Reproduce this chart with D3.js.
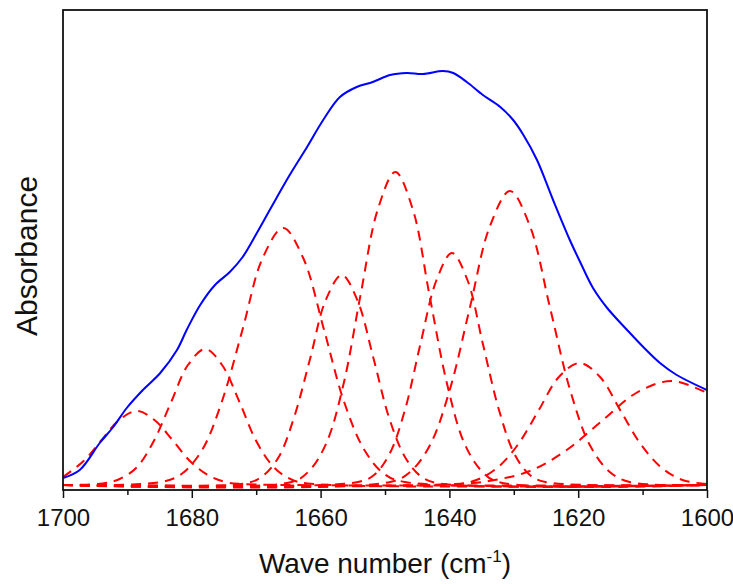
<!DOCTYPE html>
<html lang="en">
<head>
    <meta charset="UTF-8">
    <title>Absorbance</title>
    <script src="https://cdn.jsdelivr.net/npm/d3@7/dist/d3.min.js"></script>
    <style>
        body { margin: 0; background: #fff; }
        text { font-family: "Liberation Sans", Arial, sans-serif; }
    </style>
</head>
<body>
    <div class="chart"></div>
<script>
    // measured spectrum [wave number, absorbance]
    const spectrum = [
        [1700, 0.007], [1697.4, 0.015], [1694.3, 0.042], [1692.2, 0.058], [1690.1, 0.077],
        [1687.6, 0.095], [1684.9, 0.112], [1682.3, 0.135], [1680.8, 0.155], [1678.7, 0.180],
        [1676.4, 0.200], [1674.1, 0.213], [1672.1, 0.228], [1669.9, 0.252], [1667.9, 0.275],
        [1664.8, 0.310], [1662.1, 0.338], [1659.6, 0.365], [1657.0, 0.388], [1654.4, 0.398],
        [1651.9, 0.403], [1649.2, 0.410], [1646.6, 0.412], [1644.1, 0.411], [1641.0, 0.414],
        [1639.4, 0.412], [1637.3, 0.403], [1634.8, 0.390], [1632.1, 0.378], [1630.1, 0.365],
        [1628.6, 0.351], [1626.4, 0.325], [1623.9, 0.285], [1621.3, 0.245], [1619.7, 0.223],
        [1617.7, 0.197], [1615.5, 0.177], [1612.4, 0.155], [1609.9, 0.138], [1607.3, 0.122],
        [1604.7, 0.110], [1600, 0.095]
    ]

    // fitted component bands [wave number, absorbance]
    const band1 = [
        [1700, 0.008], [1696.8, 0.024], [1694.0, 0.045], [1691.3, 0.065], [1688.5, 0.074],
        [1685.8, 0.065], [1683.0, 0.045], [1680.3, 0.024], [1677.5, 0.010], [1674.8, 0.003],
        [1672.0, 0.001], [1600, 0]
    ]
    const band2 = [
        [1700, 0], [1693.8, 0.0015], [1691.2, 0.006], [1688.5, 0.018], [1685.9, 0.044],
        [1683.2, 0.083], [1680.6, 0.120], [1677.9, 0.136], [1675.3, 0.120], [1672.6, 0.083],
        [1670.0, 0.044], [1667.3, 0.018], [1664.7, 0.006], [1662.0, 0.0015], [1600, 0]
    ]
    const band3 = [
        [1700, 0], [1684.7, 0.003], [1681.6, 0.011], [1678.4, 0.035], [1675.3, 0.084],
        [1672.1, 0.156], [1669.0, 0.227], [1665.8, 0.257], [1662.7, 0.227], [1659.5, 0.156],
        [1656.4, 0.084], [1653.2, 0.035], [1650.1, 0.011], [1646.9, 0.003], [1600, 0]
    ]
    const band4 = [
        [1700, 0], [1671.4, 0.002], [1669.0, 0.009], [1666.5, 0.028], [1664.1, 0.068],
        [1661.6, 0.127], [1659.2, 0.185], [1656.7, 0.210], [1654.3, 0.185], [1651.8, 0.127],
        [1649.4, 0.068], [1646.9, 0.028], [1644.5, 0.009], [1642.0, 0.002], [1600, 0]
    ]
    const band5 = [
        [1700, 0], [1664.5, 0.003], [1661.8, 0.014], [1659.1, 0.042], [1656.4, 0.102],
        [1653.8, 0.190], [1651.1, 0.276], [1648.4, 0.313], [1645.7, 0.276], [1643.1, 0.190],
        [1640.4, 0.102], [1637.7, 0.042], [1635.0, 0.014], [1632.4, 0.003], [1600, 0]
    ]
    const band6 = [
        [1700, 0], [1654.2, 0.003], [1651.7, 0.010], [1649.3, 0.031], [1646.9, 0.075],
        [1644.5, 0.141], [1642.0, 0.205], [1639.6, 0.232], [1637.2, 0.205], [1634.8, 0.141],
        [1632.3, 0.075], [1629.9, 0.031], [1627.5, 0.010], [1625.1, 0.003], [1600, 0]
    ]
    const band7 = [
        [1700, 0], [1649.2, 0.003], [1646.1, 0.013], [1643.0, 0.040], [1639.9, 0.096],
        [1636.8, 0.178], [1633.7, 0.259], [1630.6, 0.294], [1627.5, 0.259], [1624.4, 0.178],
        [1621.3, 0.096], [1618.2, 0.040], [1615.1, 0.013], [1612.0, 0.003], [1600, 0]
    ]
    const band8 = [
        [1700, 0], [1639.0, 0.001], [1635.8, 0.005], [1632.6, 0.017], [1629.4, 0.040],
        [1626.2, 0.074], [1623.0, 0.108], [1619.8, 0.122], [1616.6, 0.108], [1613.4, 0.074],
        [1610.2, 0.040], [1607.0, 0.017], [1603.8, 0.005], [1600, 0.001]
    ]
    const band9 = [
        [1700, 0], [1638.5, 0.001], [1633.0, 0.005], [1627.5, 0.014], [1622.0, 0.034],
        [1616.5, 0.063], [1611.0, 0.092], [1605.5, 0.104], [1600, 0.092]
    ]
    const bands = [band1, band2, band3, band4, band5, band6, band7, band8, band9]

    const majorTicks = [1700, 1680, 1660, 1640, 1620, 1600]
    const minorTicks = [1690, 1670, 1650, 1630, 1610]

    const width = 733
    const height = 584
    const plot = { left: 63, right: 707, top: 10, bottom: 490 }

    const xScale = d3.scaleLinear().domain([1700, 1600]).range([plot.left, plot.right])
    const yScale = d3.scaleLinear().domain([-0.005, 0.475]).range([plot.bottom, plot.top])

    const line = d3.line()
        .x(d => xScale(d[0]))
        .y(d => yScale(d[1]))
        .curve(d3.curveCatmullRom.alpha(0.5))

    const svg = d3.select('.chart')
        .append('svg')
        .attr('width', width)
        .attr('height', height)

    svg.append('rect')
        .attr('width', width)
        .attr('height', height)
        .attr('fill', '#fff')

    const clip = svg.append('clipPath').attr('id', 'clip')
    clip.append('rect')
        .attr('x', plot.left)
        .attr('y', plot.top)
        .attr('width', plot.right - plot.left)
        .attr('height', plot.bottom - plot.top)

    const g = svg.append('g').attr('clip-path', 'url(#clip)')

    g.selectAll('.band')
        .data(bands)
        .enter()
        .append('path')
        .attr('class', 'band')
        .attr('d', d => line(d))
        .attr('fill', 'none')
        .attr('stroke', '#ff0000')
        .attr('stroke-width', 2)
        .attr('stroke-dasharray', '10,7')

    g.append('path')
        .attr('d', line(spectrum))
        .attr('fill', 'none')
        .attr('stroke', '#0000ff')
        .attr('stroke-width', 2)

    // x axis, major and minor ticks
    const xAxis = d3.axisBottom(xScale)
        .tickValues(majorTicks)
        .tickSize(8)
        .tickPadding(11)
        .tickFormat(d3.format('d'))
    const gx = svg.append('g')
        .attr('transform', `translate(0, ${plot.bottom})`)
        .call(xAxis)
    gx.select('.domain').remove()
    gx.selectAll('line').attr('stroke', '#111').attr('stroke-width', 1.5)
    gx.selectAll('text')
        .attr('font-size', '24px')
        .attr('fill', '#111')
        .style('font-family', '"Liberation Sans", Arial, sans-serif')

    const xMinor = d3.axisBottom(xScale)
        .tickValues(minorTicks)
        .tickSize(5)
        .tickFormat('')
    const gm = svg.append('g')
        .attr('transform', `translate(0, ${plot.bottom})`)
        .call(xMinor)
    gm.select('.domain').remove()
    gm.selectAll('line').attr('stroke', '#111').attr('stroke-width', 1.5)

    // frame
    svg.append('rect')
        .attr('x', plot.left)
        .attr('y', plot.top)
        .attr('width', plot.right - plot.left)
        .attr('height', plot.bottom - plot.top)
        .attr('fill', 'none')
        .attr('stroke', '#111')
        .attr('stroke-width', 1.8)

    // axis titles
    const xTitle = svg.append('text')
        .attr('x', (plot.left + plot.right) / 2)
        .attr('y', 573)
        .attr('text-anchor', 'middle')
        .attr('font-size', '28px')
        .attr('fill', '#111')
    xTitle.append('tspan').text('Wave number (cm')
    xTitle.append('tspan').attr('font-size', '17px').attr('dy', -11).text('-1')
    xTitle.append('tspan').attr('dy', 11).text(')')

    svg.append('text')
        .attr('transform', `translate(37, ${(plot.top + plot.bottom) / 2 + 6}) rotate(-90)`)
        .attr('text-anchor', 'middle')
        .attr('font-size', '30px')
        .attr('fill', '#111')
        .text('Absorbance')
</script>
</body>
</html>
